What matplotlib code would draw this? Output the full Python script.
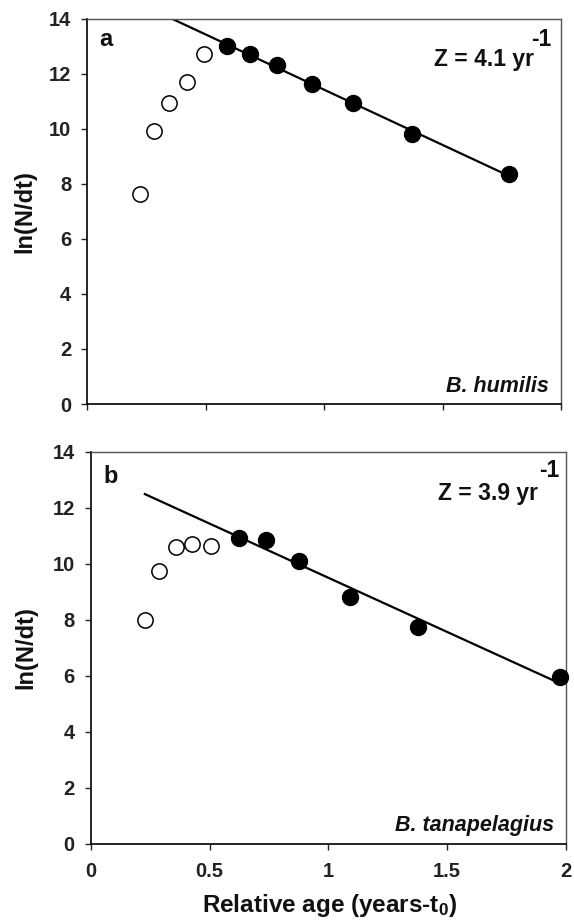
import numpy as np
import matplotlib
matplotlib.use("Agg")
import matplotlib.pyplot as plt

plt.rcParams['font.family'] = ['Liberation Sans', 'DejaVu Sans']
plt.rcParams['font.weight'] = 'bold'
plt.rcParams['mathtext.fontset'] = 'custom'
plt.rcParams['mathtext.rm'] = 'Liberation Sans:bold'
plt.rcParams['mathtext.default'] = 'rm'

# Panel a: B. humilis
a_open_x = [0.225, 0.282, 0.347, 0.420, 0.492]
a_open_y = [7.62, 9.92, 10.94, 11.69, 12.71]
a_fill_x = [0.589, 0.688, 0.802, 0.949, 1.123, 1.370, 1.782]
a_fill_y = [13.00, 12.71, 12.33, 11.61, 10.93, 9.82, 8.34]

# Panel b: B. tanapelagius
b_open_x = [0.228, 0.286, 0.360, 0.426, 0.508]
b_open_y = [7.98, 9.73, 10.60, 10.70, 10.65]
b_fill_x = [0.622, 0.738, 0.878, 1.089, 1.377, 1.974]
b_fill_y = [10.92, 10.85, 10.09, 8.81, 7.74, 5.97]

xticks = [0, 0.5, 1, 1.5, 2]
xtick_labels = ["0", "0.5", "1", "1.5", "2"]
yticks = [0, 2, 4, 6, 8, 10, 12, 14]

fig = plt.figure(figsize=(5.74, 9.22), dpi=100)
ax1 = fig.add_axes([0.1516, 0.5618, 0.8258, 0.4179])
ax2 = fig.add_axes([0.1580, 0.0846, 0.8281, 0.4255])

panels = [
    (ax1, a_open_x, a_open_y, a_fill_x, a_fill_y, "a", "Z = 4.1 yr", "B. humilis",
     (0.943, 0.878), (0.980, 0.930), (0.026, 0.929), (0.974, 0.032), 0.30, False, -0.106),
    (ax2, b_open_x, b_open_y, b_fill_x, b_fill_y, "b", "Z = 3.9 yr", "B. tanapelagius",
     (0.942, 0.877), (0.985, 0.936), (0.027, 0.919), (0.975, 0.033), 0.228, True, -0.113),
]

for (ax, ox, oy, fx, fy, lab, ztxt, sp, zpos, spos, lpos, spp, x0, showx, ylx) in panels:
    slope, icpt = np.polyfit(fx, fy, 1)
    lx = np.array([x0, fx[-1]])
    ax.plot(lx, slope * lx + icpt, color='black', lw=1.6, zorder=2)
    ax.plot(ox, oy, 'o', ms=11, mfc='white', mec='black', mew=1.1, zorder=3, clip_on=False)
    ax.plot(fx, fy, 'o', ms=11.5, mfc='black', mec='black', zorder=3, clip_on=False)
    ax.set_xlim(0, 2)
    ax.set_ylim(0, 14)
    ax.set_xticks(xticks)
    ax.set_yticks(yticks)
    ax.tick_params(axis='both', direction='out', length=4.2, width=1.0,
                   labelsize=14.5, colors='#222222')
    ax.tick_params(axis='x', pad=8.5)
    ax.tick_params(axis='y', pad=7.2)
    if showx:
        ax.set_xticklabels(xtick_labels)
        ax.set_xlabel("Relative age (years-t$_0$)", fontsize=17.5, fontweight='bold',
                      color='#111111')
        ax.xaxis.set_label_coords(0.503, -0.1726)
        ax.xaxis.label.set_va('baseline')
    else:
        ax.set_xticklabels([])
    for t in ax.get_xticklabels() + ax.get_yticklabels():
        t.set_fontweight('bold')
    ax.set_ylabel("ln(N/dt)", fontsize=17, fontweight='bold', color='#111111')
    ax.yaxis.set_label_coords(ylx, 0.5)
    for s in ['left', 'bottom']:
        ax.spines[s].set_color('black')
        ax.spines[s].set_linewidth(1.2)
    for s in ['top', 'right']:
        ax.spines[s].set_color('#555555')
        ax.spines[s].set_linewidth(1.0)
    ax.text(*lpos, lab, transform=ax.transAxes, fontsize=17, fontweight='bold',
            ha='left', va='baseline', color='#111111')
    ax.text(*zpos, ztxt, transform=ax.transAxes, fontsize=16.5, fontweight='bold',
            ha='right', va='baseline', color='#111111')
    ax.text(*spos, "-1", transform=ax.transAxes, fontsize=16.5, fontweight='bold',
            ha='right', va='baseline', color='#111111')
    ax.text(*spp, sp, transform=ax.transAxes, fontsize=15.5, fontweight='bold',
            style='italic', ha='right', va='baseline', color='#111111')

fig.savefig("out.png", dpi=100)
